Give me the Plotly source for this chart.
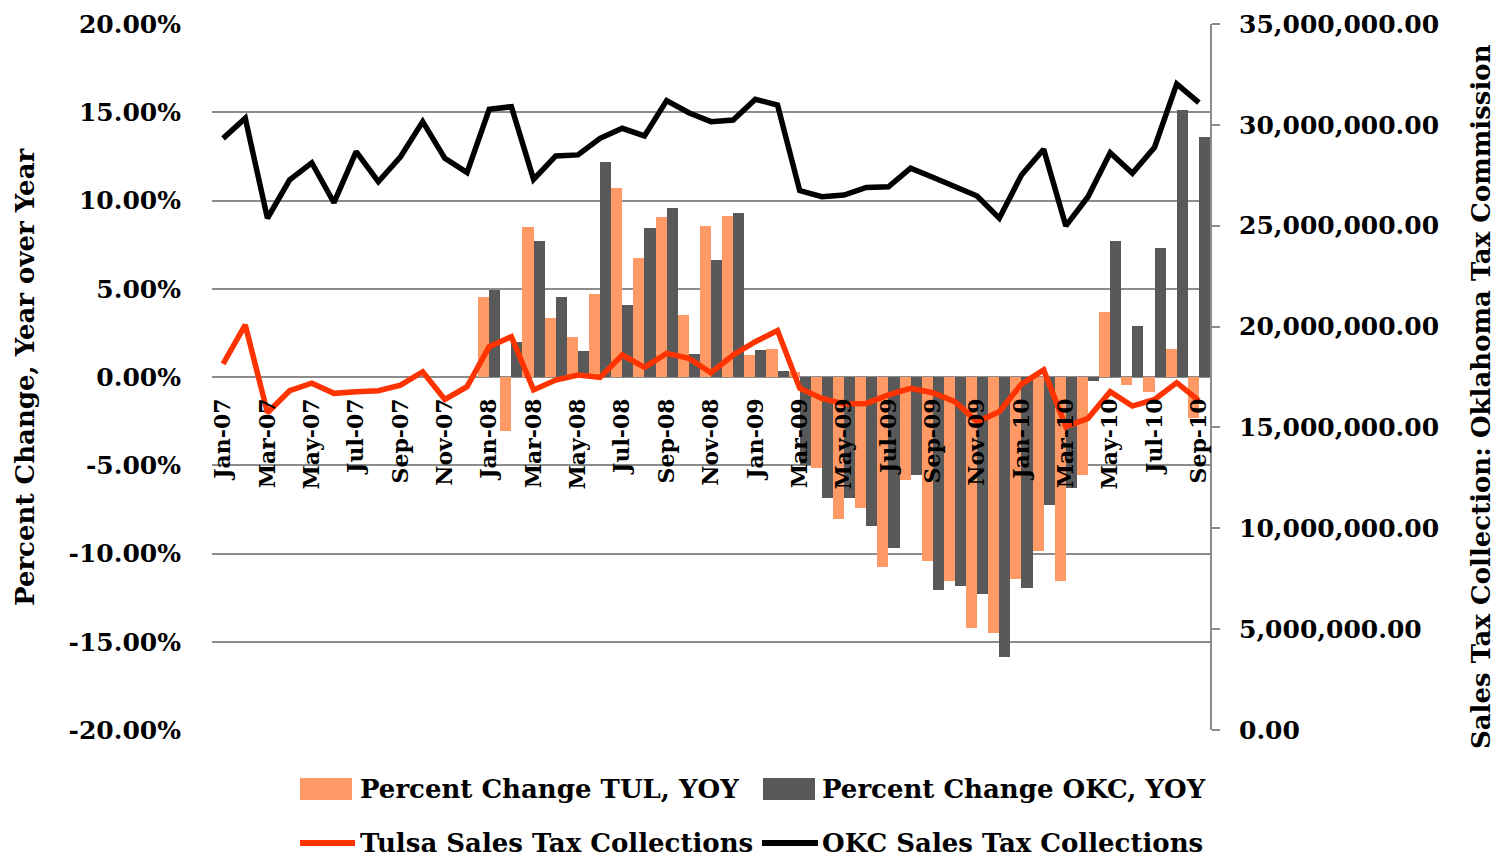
import plotly.graph_objects as go
from plotly.subplots import make_subplots

months = [
    "Jan-07", "Feb-07", "Mar-07", "Apr-07", "May-07", "Jun-07", "Jul-07", "Aug-07", "Sep-07", "Oct-07", "Nov-07", "Dec-07",
    "Jan-08", "Feb-08", "Mar-08", "Apr-08", "May-08", "Jun-08", "Jul-08", "Aug-08", "Sep-08", "Oct-08", "Nov-08", "Dec-08",
    "Jan-09", "Feb-09", "Mar-09", "Apr-09", "May-09", "Jun-09", "Jul-09", "Aug-09", "Sep-09", "Oct-09", "Nov-09", "Dec-09",
    "Jan-10", "Feb-10", "Mar-10", "Apr-10", "May-10", "Jun-10", "Jul-10", "Aug-10", "Sep-10",
]

# year over year change, percent (no data for 2007)
pct_tul = [
    None, None, None, None, None, None, None, None, None, None, None, None,
    4.53, -3.06, 8.49, 3.34, 2.26, 4.72, 10.72, 6.76, 9.06, 3.53, 8.53, 9.10,
    1.23, 1.59, 0.28, -5.13, -8.06, -7.45, -10.76, -5.81, -10.44, -11.55, -14.21, -14.53,
    -11.42, -9.87, -11.55, -5.57, 3.68, -0.47, -0.85, 1.61, -2.30,
]
pct_okc = [
    None, None, None, None, None, None, None, None, None, None, None, None,
    4.91, 1.98, 7.70, 4.53, 1.47, 12.17, 4.06, 8.44, 9.57, 1.32, 6.61, 9.29,
    1.55, 0.34, -5.00, -6.83, -6.83, -8.44, -9.66, -5.53, -12.08, -11.85, -12.30, -15.85,
    -11.95, -7.27, -6.28, -0.23, 7.68, 2.87, 7.33, 15.10, 13.59,
]

# monthly collections, dollars
tulsa_tax = [
    18150000, 20080000, 15730000, 16820000, 17190000, 16690000, 16770000, 16820000, 17100000, 17760000, 16390000, 17020000,
    19000000, 19500000, 16860000, 17350000, 17600000, 17480000, 18590000, 17980000, 18670000, 18430000, 17710000, 18590000,
    19250000, 19800000, 16940000, 16440000, 16160000, 16190000, 16610000, 16940000, 16720000, 16280000, 15280000, 15780000,
    17150000, 17850000, 15040000, 15450000, 16770000, 16060000, 16390000, 17220000, 16330000,
]
okc_tax = [
    29330000, 30330000, 25370000, 27270000, 28120000, 26140000, 28670000, 27180000, 28420000, 30160000, 28340000, 27630000,
    30770000, 30900000, 27300000, 28460000, 28510000, 29330000, 29830000, 29450000, 31200000, 30600000, 30160000, 30240000,
    31270000, 30980000, 26740000, 26440000, 26520000, 26900000, 26930000, 27850000, 27400000, 26930000, 26470000, 25370000,
    27510000, 28790000, 24990000, 26440000, 28620000, 27600000, 28890000, 32030000, 31100000,
]

pct_ticks = [-20, -15, -10, -5, 0, 5, 10, 15, 20]
pct_labels = ["-20.00%", "-15.00%", "-10.00%", "-5.00%", "0.00%", "5.00%", "10.00%", "15.00%", "20.00%"]

FONT = "DejaVu Serif"
ORANGE = "#ff9966"
DARK = "#595959"
RED = "#ff3300"
GRID = "#8c8c8c"

fig = make_subplots(specs=[[{"secondary_y": True}]])

fig.add_trace(go.Bar(x=months, y=pct_tul, name="Percent Change TUL, YOY",
                     marker=dict(color=ORANGE, line=dict(width=0))), secondary_y=False)
fig.add_trace(go.Bar(x=months, y=pct_okc, name="Percent Change OKC, YOY",
                     marker=dict(color=DARK, line=dict(width=0))), secondary_y=False)
fig.add_trace(go.Scatter(x=months, y=tulsa_tax, name="Tulsa Sales Tax Collections", mode="lines",
                         line=dict(color=RED, width=5.5)), secondary_y=True)
fig.add_trace(go.Scatter(x=months, y=okc_tax, name="OKC Sales Tax Collections", mode="lines",
                         line=dict(color="black", width=5.5)), secondary_y=True)

# the page body adds an 8px margin, so the figure is 8px smaller than the window
fig.update_layout(
    width=1495, height=851,
    margin=dict(l=204, r=293, t=16, b=129, autoexpand=False),
    paper_bgcolor="white", plot_bgcolor="white",
    barmode="group", bargap=0, bargroupgap=0,
    showlegend=False,
    font=dict(family=FONT, color="black"),
)

fig.update_xaxes(
    type="category", range=[-0.5, len(months) - 0.5], domain=[0, 1],
    anchor="free", position=0.5, automargin=False,
    tickmode="array", tickvals=months[::2],
    tickangle=-90, tickfont=dict(family=FONT, size=22, weight="bold"),
    ticklabelstandoff=16,
    showgrid=False, showline=False, ticks="",
)
fig.update_yaxes(
    range=[-20, 20], tickmode="array", tickvals=pct_ticks, ticktext=pct_labels,
    tickfont=dict(family=FONT, size=25, weight="bold"),
    showgrid=True, gridcolor=GRID, gridwidth=1.5, zeroline=False,
    showline=False, ticks="", ticklabelstandoff=30, automargin=False,
    secondary_y=False,
)
fig.update_yaxes(
    range=[0, 35000000], dtick=5000000, tickformat=",.2f",
    tickfont=dict(family=FONT, size=25, weight="bold"),
    showgrid=False, zeroline=False,
    showline=True, linecolor=GRID, linewidth=2,
    ticks="outside", ticklen=8, tickcolor=GRID, tickwidth=1.5,
    ticklabelstandoff=14, automargin=False,
    secondary_y=True,
)

# axis titles
fig.add_annotation(text="Percent Change, Year over Year", xref="paper", yref="paper",
                   x=-0.1874, y=0.5, xanchor="center", yanchor="middle",
                   textangle=-90, showarrow=False,
                   font=dict(family=FONT, size=26, weight="bold"))
fig.add_annotation(text="Sales Tax Collection: Oklahoma Tax Commission", xref="paper", yref="paper",
                   x=1.2715, y=0.473, xanchor="center", yanchor="middle",
                   textangle=-90, showarrow=False,
                   font=dict(family=FONT, size=26, weight="bold"))

# legend drawn by hand: two rows, two entries each
legend_font = dict(family=FONT, size=26, weight="bold")
fig.add_shape(type="rect", xref="paper", yref="paper", x0=0.0882, x1=0.1403, y0=-0.0992, y1=-0.068,
              fillcolor=ORANGE, line=dict(width=0))
fig.add_shape(type="rect", xref="paper", yref="paper", x0=0.5521, x1=0.6042, y0=-0.0992, y1=-0.068,
              fillcolor=DARK, line=dict(width=0))
fig.add_shape(type="line", xref="paper", yref="paper", x0=0.0882, x1=0.1433, y0=-0.160, y1=-0.160,
              line=dict(color=RED, width=6))
fig.add_shape(type="line", xref="paper", yref="paper", x0=0.5511, x1=0.6072, y0=-0.160, y1=-0.160,
              line=dict(color="black", width=6))
for label, x, y in [("Percent Change TUL, YOY", 0.1463, -0.0836),
                    ("Percent Change OKC, YOY", 0.6092, -0.0836),
                    ("Tulsa Sales Tax Collections", 0.1463, -0.160),
                    ("OKC Sales Tax Collections", 0.6092, -0.160)]:
    fig.add_annotation(text=label, xref="paper", yref="paper", x=x, y=y,
                       xanchor="left", yanchor="middle", showarrow=False, font=legend_font)

fig.write_html("out.html")
